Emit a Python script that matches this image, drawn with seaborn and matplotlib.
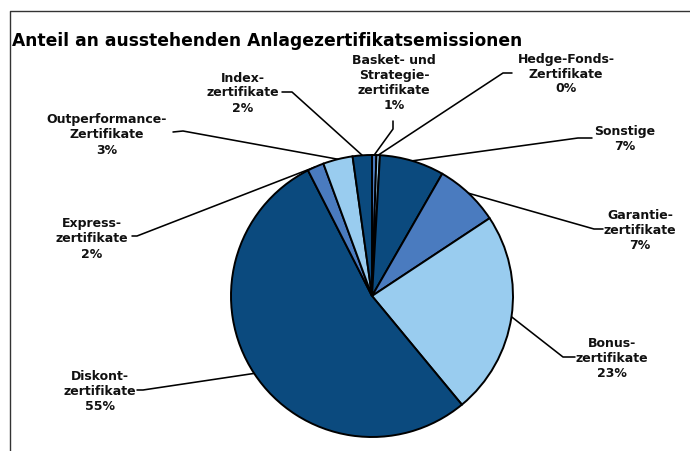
import matplotlib
matplotlib.use("Agg")
import matplotlib.pyplot as plt
import seaborn as sns
import numpy as np

# data, clockwise from 12 o'clock
labels = ["Basket- und\nStrategie-\nzertifikate", "Hedge-Fonds-\nZertifikate", "Sonstige",
          "Garantie-\nzertifikate", "Bonus-\nzertifikate", "Diskont-\nzertifikate",
          "Express-\nzertifikate", "Outperformance-\nZertifikate", "Index-\nzertifikate"]
shares = [0.5, 0.4, 7.4, 7.4, 23.3, 53.5, 1.9, 3.4, 2.2]
pct_text = [1, 0, 7, 7, 23, 55, 2, 3, 2]

sns.set_style("white")
plt.rcParams["font.family"] = ["DejaVu Sans"]

W, H = 690, 452
fig = plt.figure(figsize=(W / 100, H / 100), dpi=100)
ax = fig.add_axes([0, 0, 1, 1])

def px(x, y):
    return x, H - y

dark, med, light = "#0b4a7e", "#4a7bbf", "#99ccef"
pal = sns.color_palette([med, light, dark, med, light, dark, med, light, dark])

cx, cy = px(372, 297)
R = 141
wedges, _ = ax.pie(shares, colors=pal, startangle=90, counterclock=False,
                   center=(cx, cy), radius=R, frame=True,
                   wedgeprops=dict(edgecolor="black", linewidth=1.4))

# label layout in pixels: text centre, elbow of leader, end of leader
layout = [
    ((394, 83), (393, 130), (393, 122)),
    ((566, 74), (503, 74), (512, 74)),
    ((625, 139), (578, 139), (592, 139)),
    ((640, 231), (594, 230), (603, 230)),
    ((612, 359), (563, 358), (575, 358)),
    ((100, 392), (143, 391), (137, 391)),
    ((92, 239), (137, 237), (132, 237)),
    ((107, 135), (183, 132), (173, 133)),
    ((243, 93), (292, 93), (282, 93)),
]

for w, lab, p, (tpos, elbow, end) in zip(wedges, labels, pct_text, layout):
    mid = np.deg2rad((w.theta1 + w.theta2) / 2)
    rx, ry = cx + R * np.cos(mid), cy + R * np.sin(mid)
    ex, ey = px(*elbow)
    nx, ny = px(*end)
    ax.plot([rx, ex, nx], [ry, ey, ny], color="black", lw=1.15, zorder=0.5)
    tx, ty = px(*tpos)
    ax.text(tx, ty, f"{lab}\n{p}%", ha="center", va="center", fontsize=9,
            fontweight="bold", color="#111111", linespacing=1.2)

ax.text(12, H - 41, "Anteil an ausstehenden Anlagezertifikatsemissionen",
        ha="left", va="center", fontsize=12.3, fontweight="bold", color="black")

# frame (left and top edge only)
ax.plot([10, 10, W], [0, H - 12, H - 12], color="#333333", lw=1.0, clip_on=False)

ax.set_xlim(0, W)
ax.set_ylim(0, H)
ax.set_aspect("equal")
ax.axis("off")

fig.savefig("out.png", dpi=100, facecolor="white")
